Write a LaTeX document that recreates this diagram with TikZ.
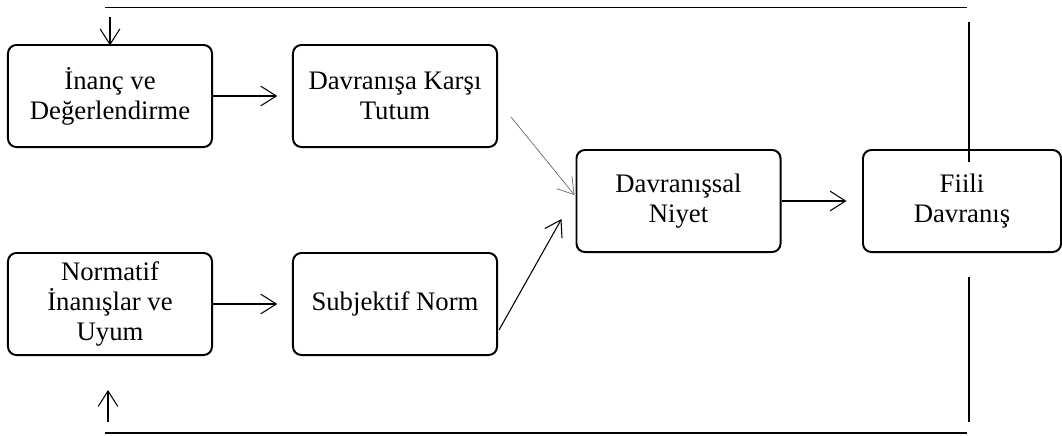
\documentclass[tikz,border=0pt]{standalone}
\usepackage{fontspec}
\setmainfont{Liberation Serif}
\usepackage{tikz}
\usetikzlibrary{arrows.meta, positioning}
\definecolor{LinkGray}{HTML}{6B6B6B}

\tikzset{
  stagebox/.style={draw, line width=1.4pt, rounded corners=6pt, align=center,
    minimum width=5.1cm, minimum height=2.55cm, inner sep=2pt,
    font=\fontsize{19}{21.5}\selectfont},
  flow/.style={line width=0.75pt, -{Straight Barb[length=11pt, width=14pt, line width=0.75pt]}},
  thinflow/.style={LinkGray, line width=0.5pt, -{Straight Barb[length=11pt, width=14pt, line width=0.5pt]}},
  loopline/.style={line width=0.75pt}
}

\begin{document}
\begin{tikzpicture}[x=0.025cm, y=-0.025cm]
    \useasboundingbox (0,0) rectangle (1062,435);
    % boxes
    \node[stagebox] (belief) at (110,96) {İnanç ve\\Değerlendirme};
    \node[stagebox] (attitude) at (395,96) {Davranışa Karşı\\Tutum};
    \node[stagebox] (normbelief) at (110,304) {Normatif\\İnanışlar ve\\Uyum};
    \node[stagebox] (subnorm) at (395,304) {Subjektif Norm};
    \node[stagebox] (intent) at (678.5,201) {Davranışsal\\Niyet};
    \node[stagebox, minimum width=4.95cm] (action) at (962,201) {Fiili\\Davranış};
    % arrows between boxes
    \draw[flow, shorten >=10.5pt] (belief.east) -- (attitude.west);
    \draw[flow, shorten >=10.5pt] (normbelief.east) -- (subnorm.west);
    \draw[thinflow] ([shift={(13,21)}]attitude.east) -- ([shift={(-1,-6)}]intent.west);
    \draw[flow] ([shift={(1,26)}]subnorm.east) -- ([shift={(-14,18)}]intent.west);
    \draw[flow, shorten >=11pt] (intent.east) -- (action.west);
    % feedback loop
    \coordinate (topL) at (105,7.5);
    \coordinate (topR) at (967,7.5);
    \coordinate (botL) at (105,433);
    \coordinate (botR) at (967,433);
    \coordinate (upIn) at (110,17);
    \coordinate (lowIn) at (108,422);
    \coordinate (lowTip) at (108,390);
    \draw[loopline] (topL) -- (topR);
    \draw[loopline] (botL) -- (botR);
    \draw[loopline] (969,22) -- (969,162);
    \draw[loopline] (969,277) -- (969,422);
    \draw[flow, shorten >=-1pt] (upIn) -- (belief.north);
    \draw[flow] (lowIn) -- (lowTip);
\end{tikzpicture}
\end{document}
